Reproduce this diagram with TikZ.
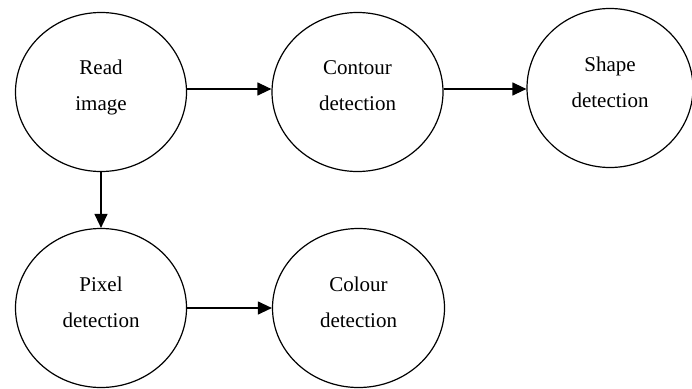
\documentclass[tikz,border=0pt]{standalone}
\usepackage{fontspec}
\setmainfont{Liberation Serif}
\usetikzlibrary{shapes.geometric,arrows.meta}
\begin{document}
\begin{tikzpicture}[x=1pt,y=-1pt,
  oval/.style={draw,ellipse,line width=1.2pt,inner sep=0pt,minimum width=171pt,minimum height=159pt},
  lbl/.style={align=center,font=\fontsize{21}{36}\selectfont,inner sep=0pt},
  arr/.style={line width=1.2pt,-{Triangle[length=14pt,width=13pt]}}]
\useasboundingbox (0,0) rectangle (692,388);
\node[oval] (read) at (101,92) {};
\node[oval] (contour) at (357.5,92) {};
\node[oval,minimum width=166pt] (shape) at (610,88) {};
\node[oval] (pixel) at (101,308) {};
\node[oval,minimum width=172pt] (colour) at (358.5,308) {};
\node[lbl] (readt) at ([yshift=5pt]read.center) {Read\\image};
\node[lbl] (contourt) at ([yshift=6pt]contour.center) {Contour\\detection};
\node[lbl] (shapet) at ([yshift=6pt]shape.center) {Shape\\detection};
\node[lbl] (pixelt) at ([yshift=6pt]pixel.center) {Pixel\\detection};
\node[lbl] (colourt) at ([yshift=6pt]colour.center) {Colour\\detection};
\draw[arr] ([yshift=3pt]read.east) -- ([yshift=3pt]contour.west);
\draw[arr] ([yshift=3pt]contour.east) -- ([yshift=3pt]contour.east -| shape.west);
\draw[arr] (read.south) -- (pixel.north);
\draw[arr] (pixel.east) -- (colour.west);
\end{tikzpicture}
\end{document}
